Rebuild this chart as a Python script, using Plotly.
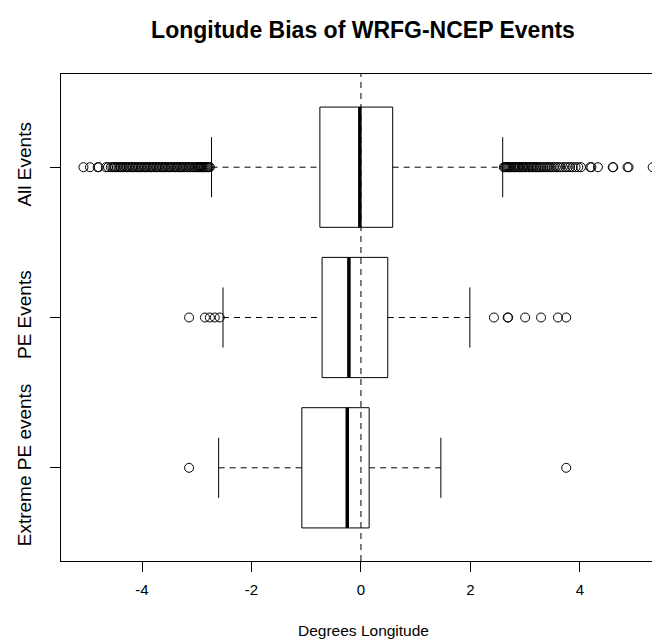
import plotly.graph_objects as go

# ---------------- data ----------------
groups = ["Extreme PE events", "PE Events", "All Events"]
positions = [1, 2, 3]

lower_whisker = [-2.60, -2.52, -2.73]
q1 = [-1.08, -0.71, -0.75]
median = [-0.25, -0.22, -0.02]
q3 = [0.15, 0.49, 0.58]
upper_whisker = [1.46, 1.99, 2.59]

outliers_extreme = [-3.14, 3.75]
outliers_pe = [-3.14, -2.85, -2.76, -2.67, -2.58,
               2.43, 2.68, 2.69, 3.00, 3.29, 3.60, 3.75]
outliers_all = [-5.07, -4.95, -4.81, -4.79, -4.66, -4.62,
                -4.57, -4.54, -4.51, -4.49, -4.46, -4.43, -4.40, -4.38, -4.35,
                -4.32, -4.29, -4.27, -4.24, -4.21, -4.18, -4.16, -4.13, -4.10,
                -4.07, -4.05, -4.02, -3.99, -3.96, -3.94, -3.91, -3.88, -3.85,
                -3.83, -3.80, -3.77, -3.74, -3.72, -3.69, -3.66, -3.63, -3.61,
                -3.58, -3.55, -3.52, -3.50, -3.47, -3.44, -3.41, -3.39, -3.36,
                -3.33, -3.30, -3.28, -3.25, -3.22, -3.19, -3.17, -3.14, -3.11,
                -3.08, -3.06, -3.03, -3.00, -2.98, -2.96, -2.94, -2.92, -2.90,
                -2.88, -2.86, -2.84, -2.82, -2.80, -2.78, -2.76,
                2.61, 2.63, 2.65, 2.67, 2.69, 2.71, 2.73, 2.75, 2.78, 2.80,
                2.82, 2.84, 2.87, 2.89, 2.91, 2.94, 2.96, 2.98, 3.01, 3.03,
                3.06, 3.08, 3.11, 3.13, 3.16, 3.19, 3.21, 3.24, 3.27, 3.30,
                3.33, 3.36, 3.39, 3.42, 3.45, 3.48, 3.52, 3.56, 3.60, 3.64,
                3.69, 3.74, 3.78, 3.82, 3.87, 3.92, 3.97, 4.02, 4.19, 4.21,
                4.33, 4.60, 4.61, 4.87, 4.89, 5.33]
outliers = [outliers_extreme, outliers_pe, outliers_all]

x_ticks = [-4, -2, 0, 2, 4]
x_tick_labels = ["-4", "-2", "0", "2", "4"]

title_text = "Longitude Bias of WRFG-NCEP Events"
x_title = "Degrees Longitude"

# ---------------- figure ----------------
BOX_HALF = 0.4
CAP_HALF = 0.2
FONT = "Liberation Sans, Arial, Helvetica, sans-serif"
DASH = "6px,5px"

fig = go.Figure()

for i, p in enumerate(positions):
    fig.add_trace(go.Scatter(
        x=[q1[i], q3[i], q3[i], q1[i], q1[i]],
        y=[p - BOX_HALF, p - BOX_HALF, p + BOX_HALF, p + BOX_HALF, p - BOX_HALF],
        mode="lines", line=dict(color="black", width=1),
        hoverinfo="skip", showlegend=False))
    fig.add_trace(go.Scatter(
        x=[lower_whisker[i], q1[i], None, q3[i], upper_whisker[i]],
        y=[p, p, None, p, p],
        mode="lines", line=dict(color="black", width=1, dash=DASH),
        hoverinfo="skip", showlegend=False))
    fig.add_trace(go.Scatter(
        x=[lower_whisker[i], lower_whisker[i], None, upper_whisker[i], upper_whisker[i]],
        y=[p - CAP_HALF, p + CAP_HALF, None, p - CAP_HALF, p + CAP_HALF],
        mode="lines", line=dict(color="black", width=1),
        hoverinfo="skip", showlegend=False))
    fig.add_trace(go.Scatter(
        x=[median[i], median[i]],
        y=[p - BOX_HALF, p + BOX_HALF],
        mode="lines", line=dict(color="black", width=3.5),
        hoverinfo="skip", showlegend=False))
    fig.add_trace(go.Scatter(
        x=outliers[i], y=[p] * len(outliers[i]),
        mode="markers",
        marker=dict(symbol="circle-open", size=9, color="black",
                    line=dict(width=1, color="black")),
        hoverinfo="skip", showlegend=False))

fig.add_shape(type="line", xref="x", yref="paper", x0=0, x1=0, y0=0, y1=1,
              line=dict(color="black", width=1, dash=DASH), layer="above")

fig.update_layout(
    width=660, height=640,
    margin=dict(l=53, r=0, t=66, b=87),
    paper_bgcolor="white", plot_bgcolor="white",
    font=dict(family=FONT, size=15, color="black"),
    title=dict(text="<b>" + title_text + "</b>", x=(355 - 53) / 607, xref="paper",
               y=1 - 22 / 640, yref="container", yanchor="middle",
               xanchor="center", font=dict(size=23, family=FONT, color="black")),
    showlegend=False,
)

fig.update_xaxes(
    range=[-5.48, 5.61], tickvals=x_ticks, ticktext=x_tick_labels,
    ticks="outside", ticklen=10, tickwidth=1, tickcolor="black",
    showline=True, linecolor="black", linewidth=1, mirror=True,
    showgrid=False, zeroline=False, ticklabelstandoff=5,
    tickfont=dict(size=15, family=FONT, color="black"),
)
fig.update_yaxes(
    range=[0.38, 3.62], tickvals=positions, ticktext=groups,
    tickangle=-90, ticks="outside", ticklen=10, tickwidth=1, tickcolor="black",
    showline=True, linecolor="black", linewidth=1, mirror=True,
    showgrid=False, zeroline=False, ticklabelstandoff=11,
    tickfont=dict(size=19, family=FONT, color="black"),
)

fig.add_annotation(text=x_title, xref="paper", yref="paper",
                   x=(355 - 53) / 607, y=-(622 - 553) / 487, yanchor="middle",
                   showarrow=False, font=dict(size=15.5, family=FONT, color="black"))

fig.write_html("out.html")
